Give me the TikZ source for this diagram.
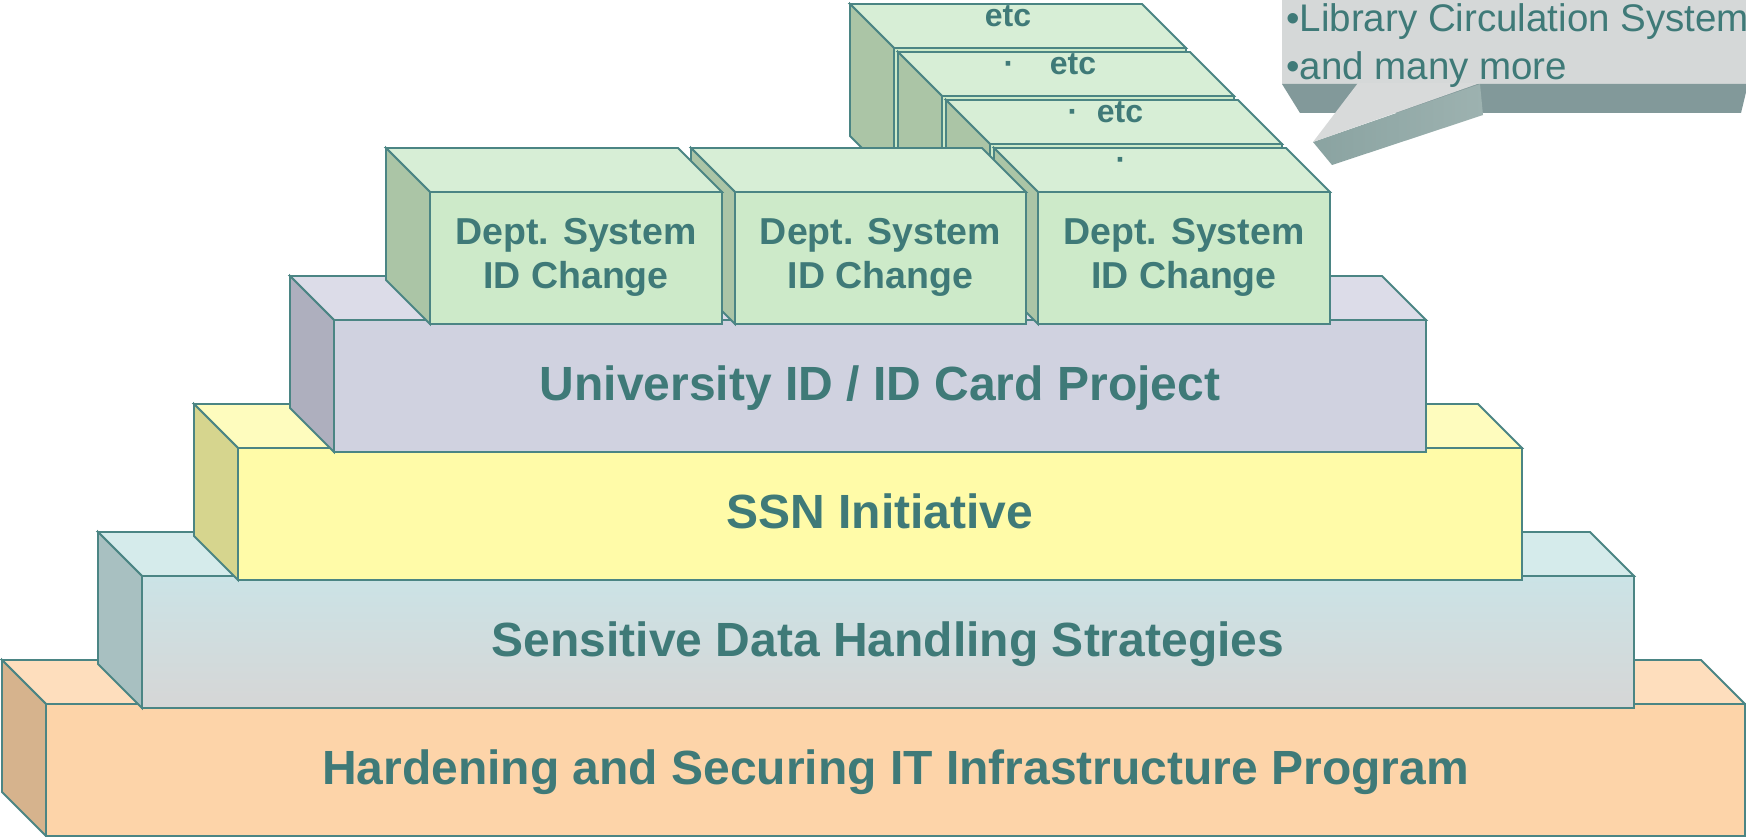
\documentclass[tikz,border=0pt]{standalone}
\usepackage{fontspec}
\setmainfont{Liberation Sans}
\definecolor{edgec}{HTML}{4B8584}
\definecolor{txtc}{HTML}{3F7A78}
\definecolor{hfront}{HTML}{FDD4A9}
\definecolor{htop}{HTML}{FEDEBD}
\definecolor{hleft}{HTML}{D6B38D}
\definecolor{sfronttop}{HTML}{CBE3E6}
\definecolor{sfrontbot}{HTML}{D6D6D6}
\definecolor{stop}{HTML}{D5EBEB}
\definecolor{sleft}{HTML}{A8C0C1}
\definecolor{nfront}{HTML}{FFFBA8}
\definecolor{ntop}{HTML}{FEFCBE}
\definecolor{nleft}{HTML}{D6D58E}
\definecolor{ufront}{HTML}{D0D2E0}
\definecolor{utop}{HTML}{DCDCE8}
\definecolor{uleft}{HTML}{AEAFBE}
\definecolor{dfront}{HTML}{CDEAC9}
\definecolor{dtop}{HTML}{D7EED6}
\definecolor{dleft}{HTML}{ABC5A6}
\definecolor{cfront}{HTML}{D5D8D8}
\definecolor{cband}{HTML}{82999A}
\definecolor{csideL}{HTML}{8AA3A1}
\definecolor{csideR}{HTML}{9DB2B0}
\definecolor{ctail}{HTML}{D8DADA}
\newcommand\mycuboid[7]{%
  \path[edge, fill=#6] (#1-44,#2-44) -- (#3-44,#2-44) -- (#3,#2) -- (#1,#2) -- cycle;
  \path[edge, fill=#7] (#1-44,#2-44) -- (#1,#2) -- (#1,#4) -- (#1-44,#4-44) -- cycle;
  \path[edge, #5] (#1,#2) rectangle (#3,#4);
}
\begin{document}
\begin{tikzpicture}[x=1pt,y=-1pt,
  edge/.style={draw=edgec, line width=1.8pt, line join=miter},
  lbl/.style={text=txtc, font=\bfseries\fontsize{48}{57}\selectfont, anchor=base, inner sep=0pt},
  dlbl/.style={text=txtc, font=\bfseries\fontsize{37.5}{44}\selectfont, anchor=base, inner sep=0pt},
  elbl/.style={text=txtc, font=\bfseries\fontsize{32}{38}\selectfont, anchor=base, inner sep=0pt},
  clbl/.style={text=txtc, font=\fontsize{38.5}{46}\selectfont, anchor=base west, inner sep=0pt}]
\useasboundingbox (0,0) rectangle (1746,837);
\clip (0,0) rectangle (1746,837);
\fill[white] (0,0) rectangle (1746,837);
% pyramid levels
\mycuboid{46}{704}{1745}{836}{fill=hfront}{htop}{hleft}
\mycuboid{142}{576}{1634}{708}{top color=sfronttop,bottom color=sfrontbot}{stop}{sleft}
\mycuboid{238}{448}{1522}{580}{fill=nfront}{ntop}{nleft}
\mycuboid{334}{320}{1426}{452}{fill=ufront}{utop}{uleft}
% staircase of further boxes
\mycuboid{894}{48}{1186}{180}{fill=dfront}{dtop}{dleft}
\mycuboid{942}{96}{1234}{228}{fill=dfront}{dtop}{dleft}
\mycuboid{990}{144}{1282}{276}{fill=dfront}{dtop}{dleft}
\mycuboid{1038}{192}{1330}{324}{fill=dfront}{dtop}{dleft}
\mycuboid{735}{192}{1026}{324}{fill=dfront}{dtop}{dleft}
\mycuboid{430}{192}{722}{324}{fill=dfront}{dtop}{dleft}
% labels
\node[lbl] (hard) at (895.5,784) {Hardening and Securing IT Infrastructure Program};
\node[lbl] (sens) at (888,656) {Sensitive Data Handling Strategies};
\node[lbl] (ssn) at (880,528) {SSN Initiative};
\node[lbl] (univ) at (880,400) {University ID / ID Card Project};
\node[dlbl] (d1a) at (576,245) {Dept. System};
\node[dlbl] (d1b) at (576,288) {ID Change};
\node[dlbl] (d2a) at (880.5,245) {Dept. System};
\node[dlbl] (d2b) at (880.5,288) {ID Change};
\node[dlbl] (d3a) at (1184,245) {Dept. System};
\node[dlbl] (d3b) at (1184,288) {ID Change};
\node[elbl] (ea) at (1008,27) {etc};
\node[elbl] (pb) at (1009,75) {·};
\node[elbl] (eb) at (1073,75) {etc};
\node[elbl] (pc) at (1073,123) {·};
\node[elbl] (ec) at (1120,123) {etc};
\node[elbl] (pd) at (1121,171) {·};
% callout
\fill[cfront] (1282,-5) rectangle (1750,84);
\fill[cband] (1282,84) -- (1748,84) -- (1741,113) -- (1300,113) -- cycle;
\shade[left color=csideL, right color=csideR] (1313,142) -- (1480,84) -- (1483,115) -- (1332,165) -- cycle;
\fill[ctail] (1358,83) -- (1480,83) -- (1313,142) -- cycle;
\node[clbl] (c1) at (1286,32) {•Library Circulation System};
\node[clbl] (c2) at (1286,80) {•and many more};
\end{tikzpicture}
\end{document}
